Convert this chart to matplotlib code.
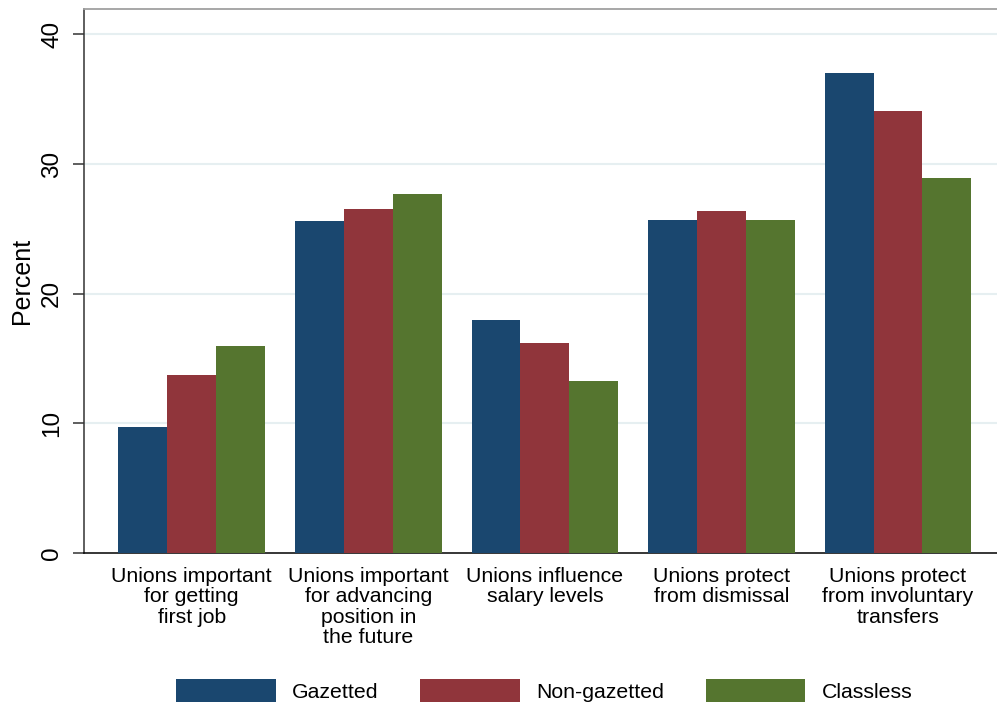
import numpy as np
import matplotlib
matplotlib.use("Agg")
import matplotlib.pyplot as plt

plt.rcParams['font.family'] = ['Liberation Sans', 'DejaVu Sans']

# Data
categories = [
    "Unions important\nfor getting\nfirst job",
    "Unions important\nfor advancing\nposition in\nthe future",
    "Unions influence\nsalary levels",
    "Unions protect\nfrom dismissal",
    "Unions protect\nfrom involuntary\ntransfers",
]
series_names = ["Gazetted", "Non-gazetted", "Classless"]
gazetted = [9.7, 25.6, 18.0, 25.7, 37.0]
non_gazetted = [13.7, 26.5, 16.2, 26.4, 34.1]
classless = [16.0, 27.7, 13.3, 25.7, 28.9]
y_ticks = [0, 10, 20, 30, 40]

colors = ['#1a476f', '#90353b', '#55752f']

W, H = 997, 702
fig = plt.figure(figsize=(W / 100, H / 100), dpi=100)
# plot region runs a little past the right edge of the image
ax = fig.add_axes([84 / W, (H - 553) / H, (1004 - 84) / W, (553 - 9) / H])

x = np.arange(len(categories))
bw = 49 / 177
for k, vals in enumerate([gazetted, non_gazetted, classless]):
    ax.bar(x + (k - 1) * bw, vals, width=bw, color=colors[k],
           label=series_names[k], zorder=3, linewidth=0)

ax.set_xlim(-0.61, 4.6)
ax.set_ylim(0, 41.95)

ax.set_yticks(y_ticks)
ax.set_yticklabels([str(t) for t in y_ticks])
for t in y_ticks[1:]:
    ax.axhline(t, color='#e6eff1', lw=1.5, zorder=1)

ax.tick_params(axis='y', length=8, width=1.1, pad=7, labelsize=17.5,
               labelrotation=90, color='#333333')
for lab in ax.get_yticklabels():
    lab.set_va('center')

ax.set_xticks(x)
ax.set_xticklabels(categories, fontsize=15.3, linespacing=1.1,
                   multialignment='center')
ax.tick_params(axis='x', length=0, pad=10)

ax.set_ylabel("Percent", fontsize=18)
ax.yaxis.set_label_coords(-50 / 920, 0.5)

ax.spines['right'].set_visible(False)
ax.spines['left'].set_color('#333333')
ax.spines['left'].set_linewidth(1.1)
ax.spines['bottom'].set_color('black')
ax.spines['bottom'].set_linewidth(1.1)
ax.spines['top'].set_color('#a0a0a0')
ax.spines['top'].set_linewidth(1.3)

handles, labels = ax.get_legend_handles_labels()
fig.legend(handles, labels, ncol=3, loc='lower center',
           bbox_to_anchor=(544 / W, 0.0), frameon=False, fontsize=15.3,
           handlelength=4.7, handleheight=1.3, handletextpad=0.75,
           columnspacing=1.97, borderpad=0, borderaxespad=0)

fig.savefig("out.png", dpi=100)
